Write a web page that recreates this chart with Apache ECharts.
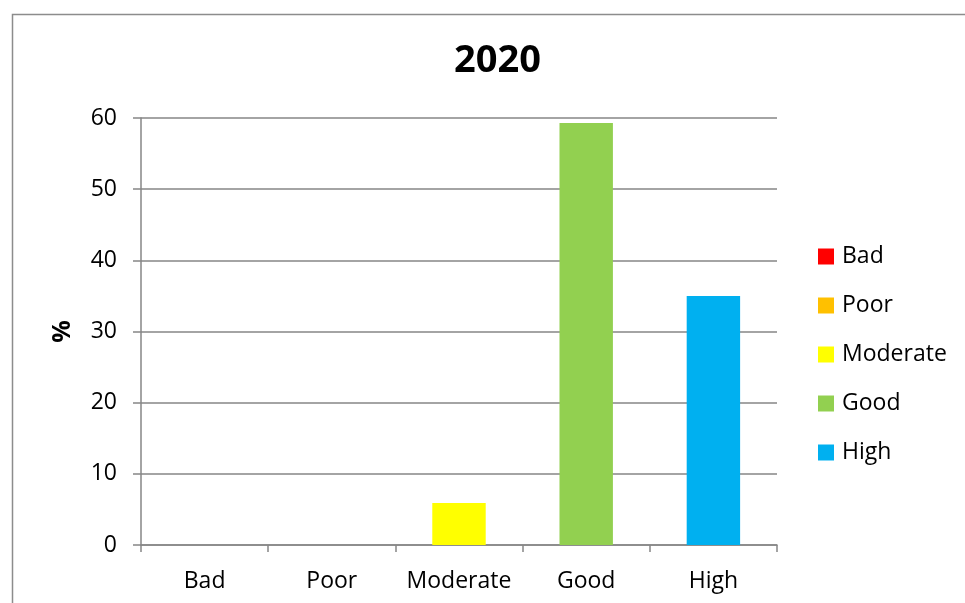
<!DOCTYPE html>
<html>
<head>
<meta charset="utf-8">
<script src="https://cdn.jsdelivr.net/npm/echarts@6/dist/echarts.min.js"></script>
<style>html,body{margin:0;padding:0;background:#fff}#c{width:965px;height:603px}</style>
</head>
<body>
<div id="c"></div>
<script>
var categories = ['Bad', 'Poor', 'Moderate', 'Good', 'High'];
var values = [0, 0, 5.9, 59.3, 35.0];
var colors = ['#FF0000', '#FFC000', '#FFFF00', '#92D050', '#00B0F0'];
var yTicks = [0, 10, 20, 30, 40, 50, 60];
var titleText = '2020';
var yName = '%';

var FONT = '"Open Sans", "Noto Sans", sans-serif';
var chart = echarts.init(document.getElementById('c'), null, {renderer: 'canvas'});

var series = categories.map(function (name, i) {
  return {
    name: name,
    type: 'bar',
    stack: 'all',
    barWidth: '42%',
    itemStyle: {color: colors[i]},
    data: categories.map(function (c, j) { return j === i ? values[i] : '-'; })
  };
});

chart.setOption({
  animation: false,
  backgroundColor: '#fff',
  graphic: [{
    type: 'rect', left: 10, top: 12,
    shape: {width: 1000, height: 700},
    style: {fill: 'none', stroke: '#8c8c8c', lineWidth: 1.5}
  }],
  title: {
    text: titleText, left: 449, top: 37,
    textStyle: {fontFamily: FONT, fontSize: 38, fontWeight: 'bold', color: '#000'}
  },
  legend: {
    orient: 'vertical', left: 813, top: 240,
    itemWidth: 16, itemHeight: 16, itemGap: 26,
    icon: 'rect',
    textStyle: {fontFamily: FONT, fontSize: 23, color: '#000', padding: [0, 0, 0, 3]},
    data: categories
  },
  grid: {left: 141, right: 188, top: 118, bottom: 58, containLabel: false},
  xAxis: {
    type: 'category', data: categories,
    axisLine: {lineStyle: {color: '#868686', width: 1.5}},
    axisTick: {show: true, interval: 0, length: 7, lineStyle: {color: '#868686', width: 1.5}},
    axisLabel: {interval: 0, hideOverlap: false, fontFamily: FONT, fontSize: 23, color: '#000', margin: 25}
  },
  yAxis: {
    type: 'value', min: yTicks[0], max: yTicks[yTicks.length - 1], interval: 10,
    name: yName, nameLocation: 'middle', nameGap: 66, nameRotate: 90,
    nameTextStyle: {fontFamily: FONT, fontSize: 25, fontWeight: 'bold', color: '#000'},
    axisLine: {show: true, lineStyle: {color: '#868686', width: 1.5}},
    axisTick: {show: true, length: 8, lineStyle: {color: '#868686', width: 1.5}},
    axisLabel: {fontFamily: FONT, fontSize: 23, color: '#000', margin: 24},
    splitLine: {show: true, lineStyle: {color: '#868686', width: 1.5}}
  },
  series: series
});
</script>
</body>
</html>
